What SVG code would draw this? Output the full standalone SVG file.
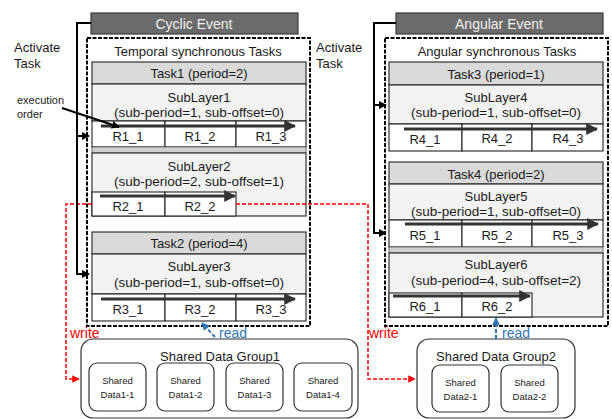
<svg xmlns="http://www.w3.org/2000/svg" width="612" height="419" viewBox="0 0 612 419">
<defs>
<style>
text{font-family:"Liberation Sans",Arial,sans-serif;fill:#1a1a1a;text-anchor:middle}
.t13{font-size:13px}
.t12{font-size:13.5px}
.sm{font-size:9.5px}
.hdr{fill:#d9d9d9;stroke:#333;stroke-width:1.2}
.sub{fill:#f2f2f2;stroke:#333;stroke-width:1.2}
.cell{fill:#fff;stroke:#222;stroke-width:1.1}
.band{fill:#cfcfcf;stroke:#555;stroke-width:0.8}
.ev{fill:#6b6b6b;stroke:#3a3a3a;stroke-width:1.2}
.evt{fill:#f0f0f0;font-size:14px}
.dash{fill:none;stroke:#000;stroke-width:2;stroke-dasharray:4 1.5}
.grp{fill:#fff;stroke:#333;stroke-width:1.2}
.ord{stroke:#333;stroke-width:3;fill:none}
.act{stroke:#000;stroke-width:2;fill:none}
.wr{stroke:#ff0000;stroke-width:1.5;fill:none;stroke-dasharray:4 2}
.rd{stroke:#2e75b6;stroke-width:2;fill:none;stroke-dasharray:4 2}
</style>
<marker id="ah" viewBox="0 0 10 10" refX="9" refY="5" markerWidth="4" markerHeight="4" orient="auto" markerUnits="strokeWidth"><path d="M0,0L10,5L0,10z" fill="#333"/></marker>
<marker id="ahk" viewBox="0 0 10 10" refX="9" refY="5" markerWidth="4" markerHeight="4" orient="auto" markerUnits="strokeWidth"><path d="M0,0L10,5L0,10z" fill="#000"/></marker>
<marker id="ahr" viewBox="0 0 10 10" refX="9" refY="5" markerWidth="5" markerHeight="5" orient="auto" markerUnits="strokeWidth"><path d="M0,0L10,5L0,10z" fill="#ff0000"/></marker>
<marker id="ahb" viewBox="0 0 10 10" refX="9" refY="5" markerWidth="4" markerHeight="4" orient="auto" markerUnits="strokeWidth"><path d="M0,0L10,5L0,10z" fill="#2e75b6"/></marker>
</defs>
<rect width="612" height="419" fill="#fff"/>

<g id="cyclic-event"><rect class="ev" x="91" y="13" width="207" height="21"/><text class="evt" x="194" y="29">Cyclic Event</text></g>
<g id="angular-event"><rect class="ev" x="396" y="13" width="207" height="21"/><text class="evt" x="499" y="29">Angular Event</text></g>

<g id="activate-left"><text class="t13" x="14" y="52" style="text-anchor:start">Activate</text><text class="t13" x="14" y="68" style="text-anchor:start">Task</text></g>
<g id="activate-right"><text class="t13" x="316" y="52" style="text-anchor:start">Activate</text><text class="t13" x="316" y="68" style="text-anchor:start">Task</text></g>

<g id="temporal-tasks">
<rect class="dash" x="87" y="38" width="223" height="288"/>
<text class="t13" x="198" y="56">Temporal synchronous Tasks</text>
</g>
<g id="angular-tasks">
<rect class="dash" x="385" y="38" width="223" height="288"/>
<text class="t13" x="497" y="56">Angular synchronous Tasks</text>
</g>

<g id="task1">
<rect class="hdr" x="92" y="62" width="214" height="22"/>
<text class="t13" x="199" y="78">Task1 (period=2)</text>
<rect class="sub" x="92" y="84" width="214" height="37"/>
<text class="t13" x="199" y="102">SubLayer1</text>
<text class="t12" x="199" y="117">(sub-period=1, sub-offset=0)</text>
<rect class="cell" x="92" y="121" width="73" height="26"/><rect class="cell" x="165" y="121" width="71" height="26"/><rect class="cell" x="236" y="121" width="70" height="26"/>
<text class="t13" x="128" y="141">R1_1</text><text class="t13" x="200" y="141">R1_2</text><text class="t13" x="271" y="141">R1_3</text>
<path class="ord" d="M101,126H295" marker-end="url(#ah)"/>
<rect class="band" x="92" y="147" width="214" height="6"/>
<rect class="sub" x="92" y="153" width="214" height="63"/>
<text class="t13" x="199" y="171">SubLayer2</text>
<text class="t12" x="199" y="186">(sub-period=2, sub-offset=1)</text>
<rect class="cell" x="92" y="192" width="73" height="24"/><rect class="cell" x="165" y="192" width="71" height="24"/>
<text class="t13" x="128" y="211">R2_1</text><text class="t13" x="200" y="211">R2_2</text>
<path class="ord" d="M100,196H235" marker-end="url(#ah)"/>
</g>

<g id="task2">
<rect class="hdr" x="92" y="232" width="214" height="22"/>
<text class="t13" x="199" y="248">Task2 (period=4)</text>
<rect class="sub" x="92" y="254" width="214" height="40"/>
<text class="t13" x="199" y="271">SubLayer3</text>
<text class="t12" x="199" y="287">(sub-period=1, sub-offset=0)</text>
<rect class="cell" x="92" y="294" width="73" height="27"/><rect class="cell" x="165" y="294" width="71" height="27"/><rect class="cell" x="236" y="294" width="70" height="27"/>
<text class="t13" x="128" y="314">R3_1</text><text class="t13" x="200" y="314">R3_2</text><text class="t13" x="271" y="314">R3_3</text>
<path class="ord" d="M101,299H295" marker-end="url(#ah)"/>
</g>

<g id="task3">
<rect class="hdr" x="389" y="62" width="214" height="23"/>
<text class="t13" x="496" y="79">Task3 (period=1)</text>
<rect class="sub" x="389" y="85" width="214" height="39"/>
<text class="t13" x="496" y="102">SubLayer4</text>
<text class="t12" x="496" y="117">(sub-period=1, sub-offset=0)</text>
<rect class="cell" x="389" y="124" width="73" height="27"/><rect class="cell" x="462" y="124" width="70" height="27"/><rect class="cell" x="532" y="124" width="71" height="27"/>
<text class="t13" x="425" y="144">R4_1</text><text class="t13" x="497" y="143">R4_2</text><text class="t13" x="568" y="143">R4_3</text>
<path class="ord" d="M404,129H597" marker-end="url(#ah)"/>
</g>

<g id="task4">
<rect class="hdr" x="389" y="162" width="214" height="22"/>
<text class="t13" x="496" y="179">Task4 (period=2)</text>
<rect class="sub" x="389" y="184" width="214" height="36"/>
<text class="t13" x="496" y="201">SubLayer5</text>
<text class="t12" x="496" y="216">(sub-period=1, sub-offset=0)</text>
<rect class="cell" x="389" y="220" width="73" height="27"/><rect class="cell" x="462" y="220" width="70" height="27"/><rect class="cell" x="532" y="220" width="71" height="27"/>
<text class="t13" x="425" y="240">R5_1</text><text class="t13" x="497" y="240">R5_2</text><text class="t13" x="568" y="240">R5_3</text>
<path class="ord" d="M405,224H598" marker-end="url(#ah)"/>
<rect class="band" x="389" y="247" width="214" height="6"/>
<rect class="sub" x="389" y="253" width="214" height="64"/>
<text class="t13" x="496" y="269">SubLayer6</text>
<text class="t12" x="496" y="285">(sub-period=4, sub-offset=2)</text>
<rect class="cell" x="389" y="293" width="73" height="24"/><rect class="cell" x="462" y="293" width="70" height="24"/>
<text class="t13" x="425" y="311">R6_1</text><text class="t13" x="497" y="311">R6_2</text>
<path class="ord" d="M393,296H530" marker-end="url(#ah)"/>
</g>

<g id="group1">
<rect class="grp" x="81" y="339" width="277" height="79" rx="12"/>
<text class="t13" x="220" y="361">Shared Data Group1</text>
<rect class="grp" x="89" y="363" width="57" height="48" rx="8"/><text class="sm" x="117.5" y="384">Shared</text><text class="sm" x="117.5" y="398">Data1-1</text>
<rect class="grp" x="157" y="363" width="57" height="48" rx="8"/><text class="sm" x="185.5" y="384">Shared</text><text class="sm" x="185.5" y="398">Data1-2</text>
<rect class="grp" x="226" y="363" width="57" height="48" rx="8"/><text class="sm" x="254.5" y="384">Shared</text><text class="sm" x="254.5" y="398">Data1-3</text>
<rect class="grp" x="294" y="363" width="58" height="48" rx="8"/><text class="sm" x="323" y="384">Shared</text><text class="sm" x="323" y="398">Data1-4</text>
</g>

<g id="group2">
<rect class="grp" x="417" y="339" width="158" height="79" rx="12"/>
<text class="t13" x="496" y="361">Shared Data Group2</text>
<rect class="grp" x="432" y="365" width="57" height="47" rx="8"/><text class="sm" x="460.5" y="386">Shared</text><text class="sm" x="460.5" y="400">Data2-1</text>
<rect class="grp" x="501" y="365" width="57" height="47" rx="8"/><text class="sm" x="529.5" y="386">Shared</text><text class="sm" x="529.5" y="400">Data2-2</text>
</g>

<g id="connectors">
<path class="wr" d="M236,204H368V379H415" marker-end="url(#ahr)"/>
<path class="wr" d="M92,204H66V379H79" marker-end="url(#ahr)"/>
<path class="act" d="M91,23H77V274H89" marker-end="url(#ahk)"/>
<path class="act" d="M77,136H89" marker-end="url(#ahk)"/>
<path class="act" d="M396,23H374V233H386" marker-end="url(#ahk)"/>
<path class="act" d="M374,105H386" marker-end="url(#ahk)"/>
<path d="M62,108L119,127" stroke="#000" stroke-width="2" fill="none" marker-end="url(#ahk)"/>
<path class="rd" d="M215,337L202,323" marker-end="url(#ahb)"/>
<path class="rd" d="M496,339V318" marker-end="url(#ahb)"/>
</g>

<g id="labels">
<text x="17" y="104" style="font-size:11px;text-anchor:start">execution</text>
<text x="17" y="118" style="font-size:11px;text-anchor:start">order</text>
<text x="70" y="338" style="fill:#ff0000;text-anchor:start;font-size:14px">write</text>
<text x="369" y="338" style="fill:#ff0000;text-anchor:start;font-size:14px">write</text>
<text x="219" y="338" style="fill:#2e75b6;text-anchor:start;font-size:14px">read</text>
<text x="502" y="338" style="fill:#2e75b6;text-anchor:start;font-size:14px">read</text>
</g>
</svg>
